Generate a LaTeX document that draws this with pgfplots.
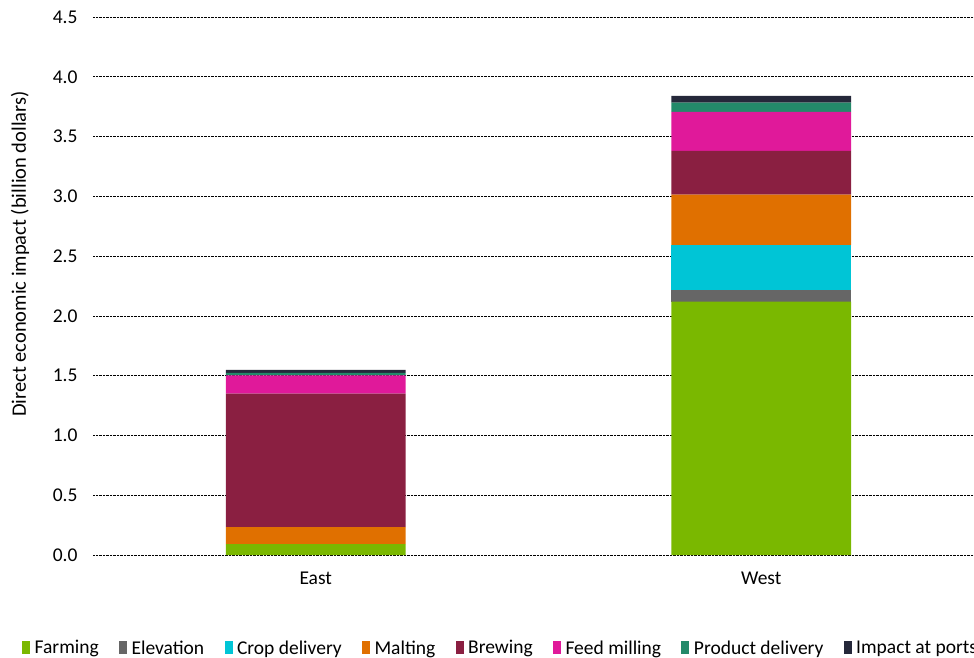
\documentclass[border=0pt]{standalone}
\usepackage{fontspec}
\setmainfont{Carlito}
\usepackage{pgfplots}
\pgfplotsset{compat=1.18}
\definecolor{cFarm}{HTML}{7AB800}
\definecolor{cElev}{HTML}{666666}
\definecolor{cCrop}{HTML}{00C5D6}
\definecolor{cMalt}{HTML}{E07000}
\definecolor{cBrew}{HTML}{8A1F41}
\definecolor{cFeed}{HTML}{E0199A}
\definecolor{cProd}{HTML}{238A6A}
\definecolor{cPort}{HTML}{25283A}
\begin{document}
\begin{tikzpicture}[x=1pt,y=1pt]
\useasboundingbox (0,0) rectangle (974,657);
\clip (0,0) rectangle (974,657);
\begin{axis}[
  at={(93pt,102pt)}, anchor=south west,
  scale only axis, width=891pt, height=538pt,
  ymin=0, ymax=4.5, xmin=-0.5, xmax=1.5,
  ybar stacked, bar width=0.403,
  xtick={0,1}, xticklabels={East,West},
  ytick={0,0.5,1,1.5,2,2.5,3,3.5,4,4.5},
  axis line style={draw=none}, major tick length=0pt,
  ymajorgrids, grid style={densely dotted, black, line width=0.6pt},
  /pgf/number format/assume math mode=true,
  yticklabel style={/pgf/number format/.cd, fixed, fixed zerofill, precision=1, /tikz/.cd, xshift=-12pt},
  xticklabel style={yshift=-13pt},
  ticklabel style={font=\fontsize{19.5}{23}\selectfont},
  legend image code/.code={\fill[#1] (0pt,-6pt) rectangle (8pt,7pt);},
  legend style={draw=none, fill=none, at={(axis description cs:-0.0797,-0.1729)}, anchor=west,
    font=\fontsize{19.5}{23}\selectfont, inner xsep=0pt,
    /tikz/every odd column/.append style={column sep=2.5pt},
    /tikz/every even column/.append style={column sep=18.3pt}},
  legend columns=-1,
]
\addplot[fill=cFarm, draw=none] coordinates {(0,0.092) (1,2.12)};
\addplot[fill=cElev, draw=none] coordinates {(0,0) (1,0.095)};
\addplot[fill=cCrop, draw=none] coordinates {(0,0) (1,0.376)};
\addplot[fill=cMalt, draw=none] coordinates {(0,0.142) (1,0.424)};
\addplot[fill=cBrew, draw=none] coordinates {(0,1.115) (1,0.365)};
\addplot[fill=cFeed, draw=none] coordinates {(0,0.154) (1,0.326)};
\addplot[fill=cProd, draw=none] coordinates {(0,0.02) (1,0.078)};
\addplot[fill=cPort, draw=none] coordinates {(0,0.025) (1,0.056)};
\legend{Farming, Elevation, Crop delivery, Malting, Brewing, Feed milling, Product delivery, Impact at ports}
\end{axis}
\node[rotate=90, font=\fontsize{20.5}{24}\selectfont] at (20,403) {Direct economic impact (billion dollars)};
\end{tikzpicture}
\end{document}
